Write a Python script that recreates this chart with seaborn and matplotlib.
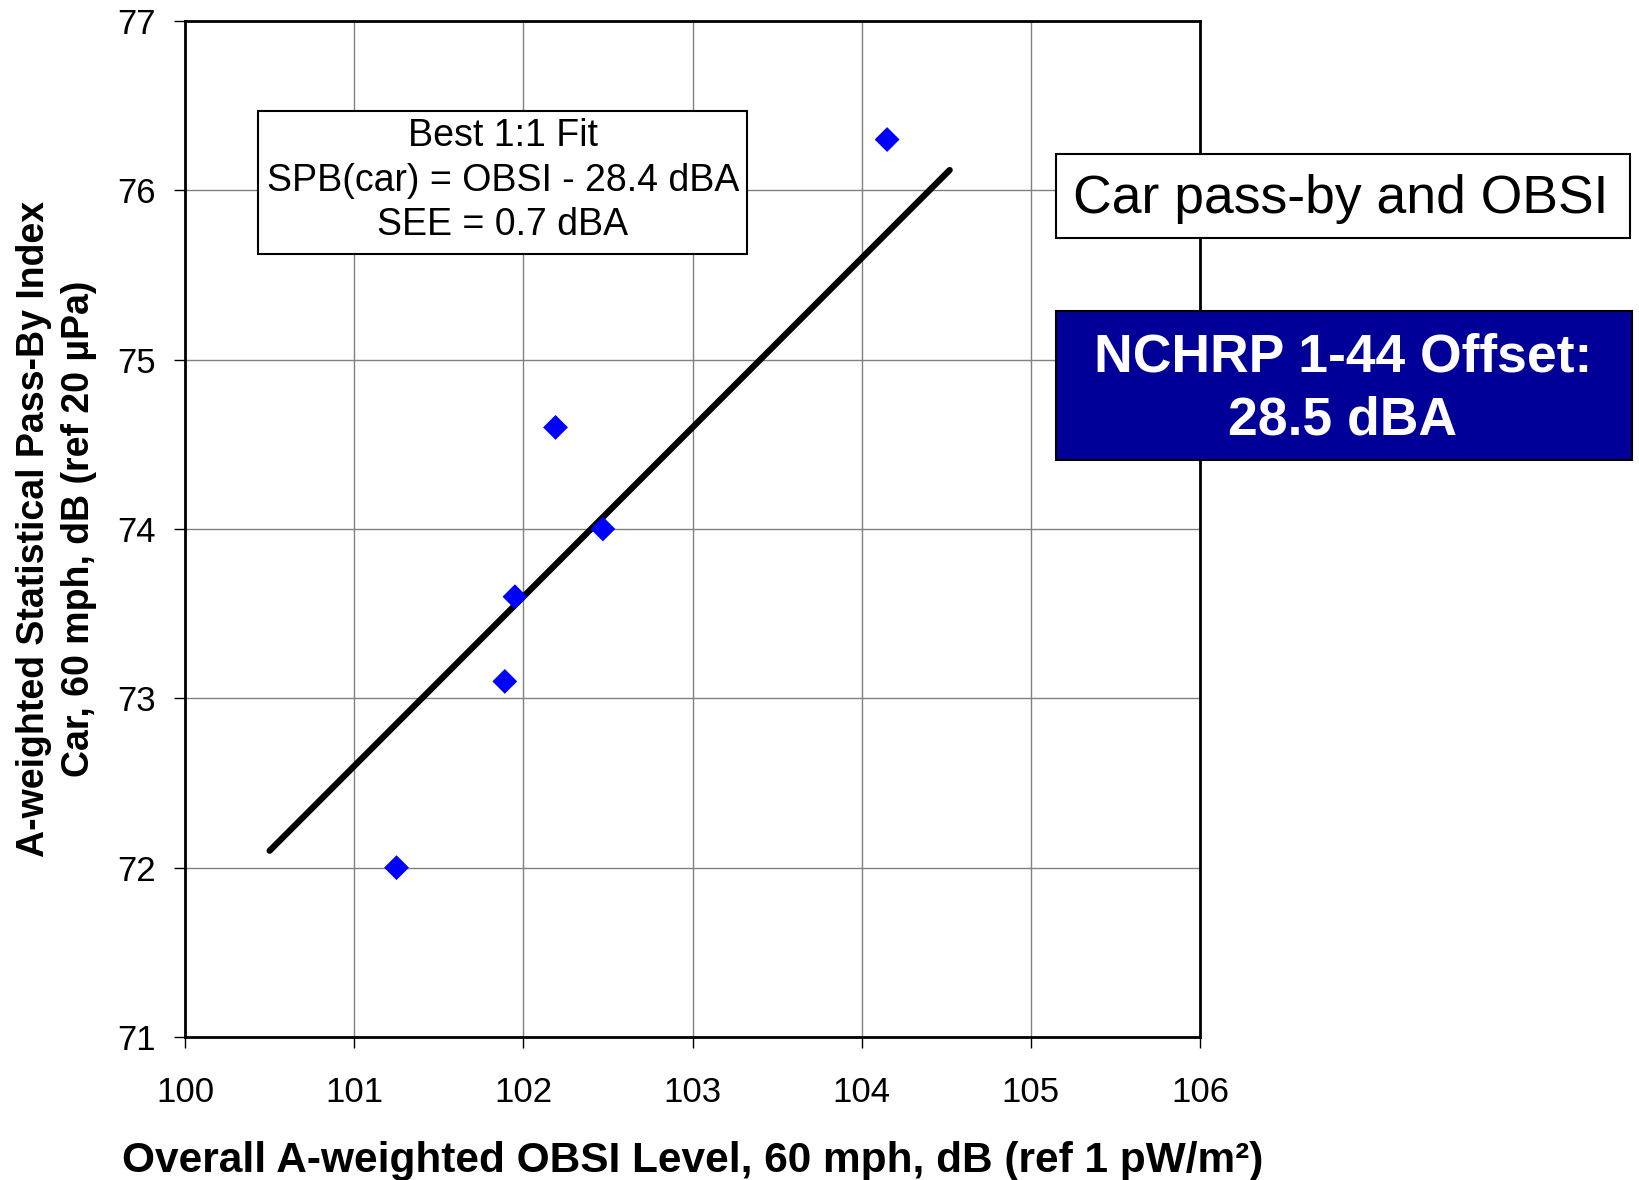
import matplotlib
matplotlib.use('Agg')
import matplotlib.pyplot as plt
import seaborn as sns
from matplotlib.patches import Rectangle

obsi_level = [101.25, 101.89, 101.95, 102.19, 102.47, 104.15]
pass_by_level = [72.0, 73.1, 73.6, 74.6, 74.0, 76.3]

# best 1:1 fit, SPB = OBSI - 28.4
fit_offset = 28.4
fit_x = [100.5, 104.52]
fit_y = [x - fit_offset for x in fit_x]

x_ticks = [100, 101, 102, 103, 104, 105, 106]
y_ticks = [71, 72, 73, 74, 75, 76, 77]

fit_text = "Best 1:1 Fit\nSPB(car) = OBSI - 28.4 dBA\nSEE = 0.7 dBA"
title_text = "Car pass-by and OBSI"
offset_text = "NCHRP 1-44 Offset:\n28.5 dBA"

sns.set_theme(style='ticks')
plt.rcParams['font.family'] = ['Liberation Sans', 'DejaVu Sans']

fig = plt.figure(figsize=(16.39, 11.8), dpi=100)
ax = fig.add_axes([0.1129, 0.1212, 0.6193, 0.861])

sns.lineplot(x=fit_x, y=fit_y, color='black', linewidth=4.5, ax=ax, zorder=2)
sns.scatterplot(x=obsi_level, y=pass_by_level, marker='D', s=160, color='blue',
                edgecolor='none', ax=ax, zorder=3)

ax.set_xlim(100, 106)
ax.set_ylim(71, 77)
ax.set_xticks(x_ticks)
ax.set_yticks(y_ticks)
ax.grid(True, color='#808080', linewidth=1)
ax.set_axisbelow(True)
for sp in ax.spines.values():
    sp.set_visible(True)
    sp.set_color('black')
    sp.set_linewidth(2)

ax.tick_params(axis='both', direction='out', length=8, width=1, color='black',
               labelsize=25, labelcolor='black')
ax.tick_params(axis='x', pad=20)
ax.tick_params(axis='y', pad=13)

ax.set_xlabel("Overall A-weighted OBSI Level, 60 mph, dB (ref 1 pW/m²)",
              fontsize=30.5, fontweight='bold', color='black')
ax.set_ylabel("A-weighted Statistical Pass-By Index\nCar, 60 mph, dB (ref 20 µPa)",
              fontsize=27, fontweight='bold', color='black', linespacing=1.3)
ax.xaxis.set_label_coords(0.5, -0.102)
ax.yaxis.set_label_coords(-0.087, 0.5)

# fit annotation box
fig.patches.append(Rectangle((0.1574, 0.7847), 0.2984, 0.1212, transform=fig.transFigure,
                             facecolor='white', edgecolor='black', linewidth=1.5, zorder=5))
fig.text(0.3069, 0.8470, fit_text, ha='center', va='center', fontsize=27,
         color='black', linespacing=1.3, zorder=6)

# title box
fig.patches.append(Rectangle((0.6443, 0.7983), 0.3502, 0.0712, transform=fig.transFigure,
                             facecolor='white', edgecolor='black', linewidth=1.5, zorder=5))
fig.text(0.8182, 0.8310, title_text, ha='center', va='center', fontsize=38.5,
         color='black', zorder=6)

# offset box
fig.patches.append(Rectangle((0.6443, 0.6102), 0.3514, 0.1263, transform=fig.transFigure,
                             facecolor='#000099', edgecolor='black', linewidth=1.5, zorder=5))
fig.text(0.8194, 0.6700, offset_text, ha='center', va='center', fontsize=38.5,
         fontweight='bold', color='white', linespacing=1.33, zorder=6)

fig.savefig('out.png', dpi=100)
